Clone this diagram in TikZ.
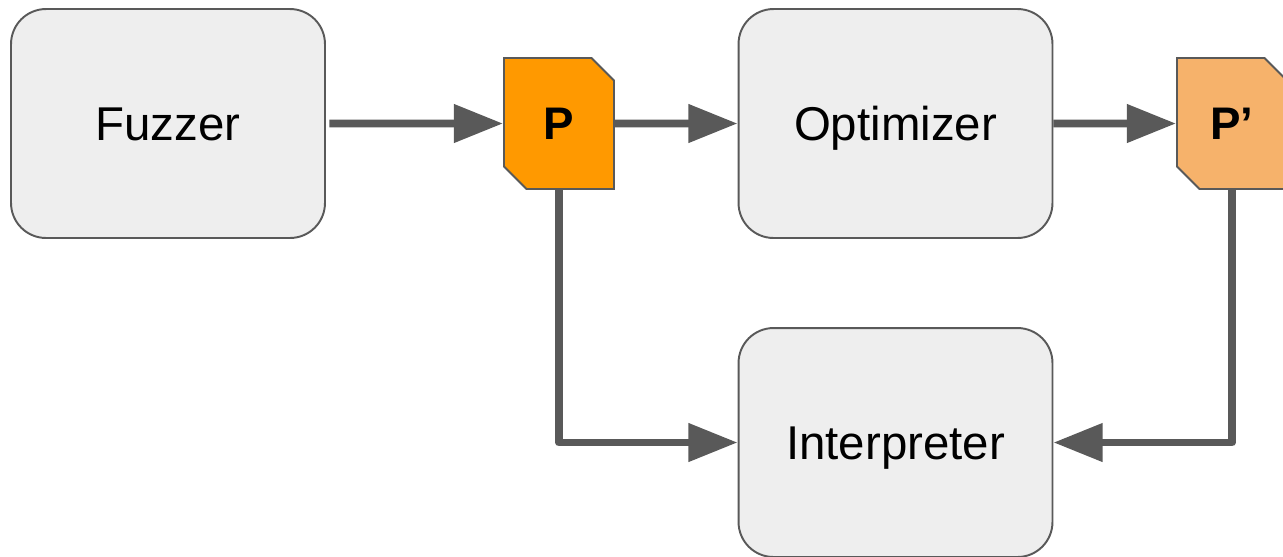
\documentclass[tikz,border=0pt]{standalone}
\usepackage{fontspec}
\setmainfont{Liberation Sans}
\usetikzlibrary{arrows.meta}
\usetikzlibrary{shapes.misc}
\usepackage{xcolor}
\definecolor{boxfill}{HTML}{EEEEEE}
\definecolor{boxline}{HTML}{595959}
\definecolor{progorange}{HTML}{FF9900}
\definecolor{proglight}{HTML}{F6B26B}

\begin{document}
\begin{tikzpicture} [x=0.02cm, y=-0.02cm,
  stage/.style={draw=boxline, line width=1.1pt, fill=boxfill, rounded corners=0.7cm,
    minimum width=6.28cm, minimum height=4.58cm, inner sep=0pt,
    text height=19.3pt, text depth=0pt,
    font=\fontsize{27}{31}\selectfont},
  prog/.style={draw=boxline, line width=1.1pt, chamfered rectangle,
    chamfered rectangle corners={north east, south west}, chamfered rectangle xsep=0.35cm,
    minimum width=2.2cm, minimum height=2.62cm, inner sep=0pt,
    text height=18.6pt, text depth=0pt,
    font=\fontsize{26}{30}\selectfont\bfseries},
  flow/.style={draw=boxline, line width=4.5pt, line join=round,
    -{Triangle[length=28pt, width=21pt]}}]
\useasboundingbox (0,0) rectangle (1283,556);
\node[stage] (fuzzer) at (168,123.5) {Fuzzer};
\node[stage] (optimizer) at (895.5,123.5) {Optimizer};
\node[stage] (interp) at (895.5,442.5) {Interpreter};
\node[prog, fill=progorange] (p) at (559,123.5) {P};
\node[prog, fill=proglight] (pp) at (1232,123.5) {P’};
% arrows
\draw[flow, shorten <=2pt] (fuzzer) -- (p);
\draw[flow] (p) -- (optimizer);
\draw[flow] (optimizer) -- (pp);
\draw[flow] (p.south) |- (interp.west);
\draw[flow] (pp.south) |- (interp.east);
\end{tikzpicture}
\end{document}
